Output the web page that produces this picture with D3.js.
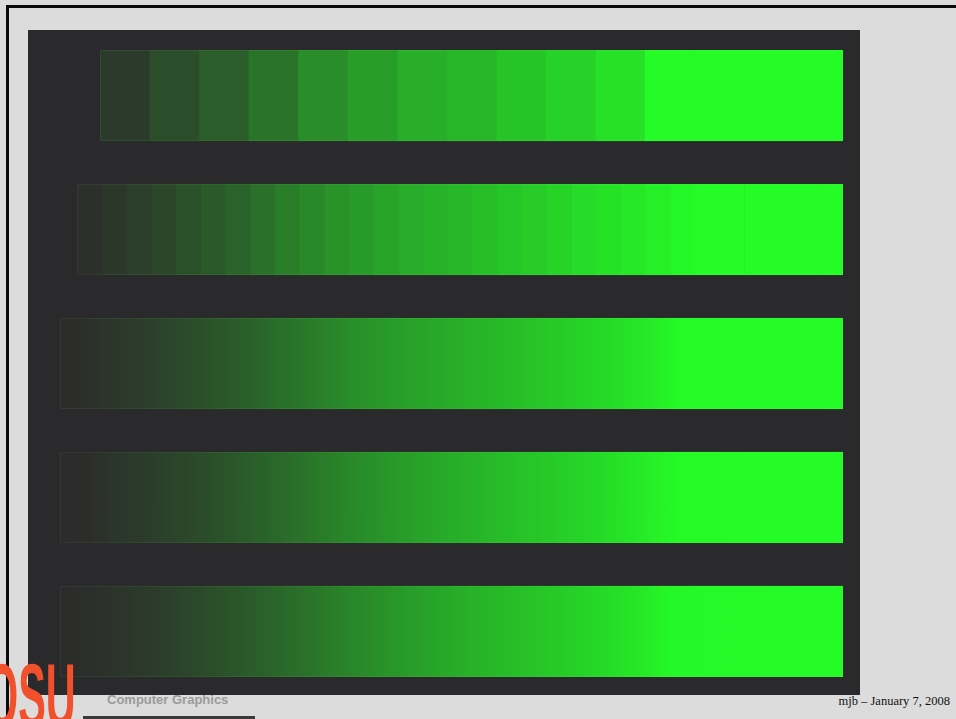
<!DOCTYPE html>
<html>
<head>
<meta charset="utf-8">
<script src="https://cdn.jsdelivr.net/npm/d3@7"></script>
<style>
  html, body { margin: 0; padding: 0; background: #dcdcdc; }
  svg { display: block; }
</style>
</head>
<body>
<svg id="chart" width="956" height="719"></svg>
<script>
// ---- data ----
const barNames = ["16 levels", "32 levels", "64 levels", "128 levels", "256 levels"];
// where each ramp begins, as a fraction of the common ramp axis
const barStarts = [0.051, 0.022, 0.0, 0.0, 0.0];
// stepped bars: green level of each step
const bar1Steps = [58, 76, 92, 115, 140, 158, 174, 182, 196, 210, 225, 252, 252, 252, 252];
const bar2Steps = [46, 54, 62, 70, 80, 88, 98, 110, 124, 135, 146, 154, 164, 172, 178, 184,
                   190, 198, 204, 212, 220, 226, 232, 240, 248, 252, 252, 252, 252, 252, 252];
// near-continuous bars: [fraction along ramp, green level]
const bar3Stops = [[0.003, 42], [0.019, 44], [0.051, 50], [0.115, 62], [0.179, 78], [0.243, 96],
                   [0.307, 118], [0.370, 140], [0.434, 158], [0.498, 172], [0.562, 186],
                   [0.626, 200], [0.690, 216], [0.754, 234], [0.792, 250], [1.0, 252]];
const bar4Stops = [[0.0, 42], [0.038, 44], [0.051, 48], [0.115, 60], [0.179, 74], [0.243, 92],
                   [0.307, 112], [0.370, 135], [0.434, 155], [0.498, 172], [0.562, 188],
                   [0.626, 202], [0.690, 218], [0.741, 234], [0.792, 250], [1.0, 252]];
const bar5Stops = [[0.0, 42], [0.045, 46], [0.115, 58], [0.179, 72], [0.243, 90], [0.307, 110],
                   [0.370, 132], [0.434, 152], [0.498, 170], [0.562, 186], [0.626, 200],
                   [0.690, 216], [0.741, 232], [0.779, 248], [1.0, 252]];
const footerLeft = "Computer Graphics";
const footerRight = "mjb \u2013 January 7, 2008";
const logoText = "OSU";

// ---- drawing ----
const svg = d3.select("#chart");
const W = 956, H = 719;

// page frame lines
svg.append("rect").attr("x", 6).attr("y", 5).attr("width", W - 6).attr("height", 3).attr("fill", "#0a0a0a");
svg.append("rect").attr("x", 6).attr("y", 5).attr("width", 3).attr("height", H - 5).attr("fill", "#0a0a0a");

// dark panel
svg.append("rect").attr("x", 28).attr("y", 30).attr("width", 832).attr("height", 665).attr("fill", "#2a292b");

const x = d3.scaleLinear().domain([0, 1]).range([60, 843]);
const y = d3.scaleBand().domain(barNames).range([50, 677]).paddingInner(0.32).paddingOuter(0);
const color = d3.scaleLinear().domain([42, 252]).range(["#2c2b2b", "#25fc27"]).clamp(true);

function stepped(name, steps, start) {
  const n = steps.length;
  const g = svg.append("g");
  g.selectAll("rect").data(steps).join("rect")
    .attr("x", (d, i) => x(start + (1 - start) * i / n))
    .attr("width", (d, i) => x(start + (1 - start) * (i + 1) / n) - x(start + (1 - start) * i / n) + (i < n - 1 ? 0.6 : 0))
    .attr("y", y(name))
    .attr("height", y.bandwidth())
    .attr("fill", d => color(d));
  g.append("rect")
    .attr("x", x(start) + 0.5).attr("y", y(name) + 0.5)
    .attr("width", x(1) - x(start) - 1).attr("height", y.bandwidth() - 1)
    .attr("fill", "none").attr("stroke", "rgba(140,255,140,0.08)");
}

const defs = svg.append("defs");
function smooth(name, stops, start, id) {
  const grad = defs.append("linearGradient").attr("id", id)
    .attr("gradientUnits", "userSpaceOnUse")
    .attr("x1", x(0)).attr("x2", x(1)).attr("y1", 0).attr("y2", 0);
  grad.selectAll("stop").data(stops).join("stop")
    .attr("offset", d => d[0])
    .attr("stop-color", d => color(d[1]));
  svg.append("rect")
    .attr("x", x(start)).attr("y", y(name))
    .attr("width", x(1) - x(start)).attr("height", y.bandwidth())
    .attr("fill", `url(#${id})`);
  svg.append("rect")
    .attr("x", x(start) + 0.5).attr("y", y(name) + 0.5)
    .attr("width", x(1) - x(start) - 1).attr("height", y.bandwidth() - 1)
    .attr("fill", "none").attr("stroke", "rgba(140,255,140,0.07)");
}

stepped(barNames[0], bar1Steps, barStarts[0]);
stepped(barNames[1], bar2Steps, barStarts[1]);
smooth(barNames[2], bar3Stops, barStarts[2], "g3");
smooth(barNames[3], bar4Stops, barStarts[3], "g4");
smooth(barNames[4], bar5Stops, barStarts[4], "g5");

// footer
svg.append("text")
  .attr("transform", "translate(-14,727) scale(0.46,1)")
  .attr("font-family", "Liberation Sans, Arial, sans-serif")
  .attr("font-weight", "bold")
  .attr("font-size", 90)
  .attr("fill", "#f0502c")
  .text(logoText);

svg.append("text")
  .attr("x", 107).attr("y", 704)
  .attr("font-family", "Liberation Sans, Arial, sans-serif")
  .attr("font-weight", "bold")
  .attr("font-size", 13)
  .attr("fill", "#9a9a9a")
  .text(footerLeft);

svg.append("rect").attr("x", 83).attr("y", 716).attr("width", 172).attr("height", 3).attr("fill", "#3a3a3a");

svg.append("text")
  .attr("x", 950).attr("y", 705)
  .attr("text-anchor", "end")
  .attr("font-family", "Liberation Serif, Times New Roman, serif")
  .attr("font-size", 12.5)
  .attr("fill", "#111")
  .text(footerRight);
</script>
</body>
</html>
